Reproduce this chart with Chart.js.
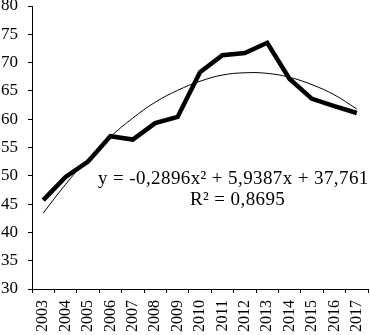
<!DOCTYPE html>
<html>
<head>
<meta charset="utf-8">
<script src="https://cdn.jsdelivr.net/npm/chart.js@4/dist/chart.umd.min.js"></script>
<style>
  html, body { margin: 0; padding: 0; background: #fff; }
  #wrap { width: 370px; height: 335px; position: relative; }
</style>
</head>
<body>
<div id="wrap"><canvas id="trend-chart" width="370" height="335"></canvas></div>
<script>
const years = ['2003','2004','2005','2006','2007','2008','2009','2010','2011','2012','2013','2014','2015','2016','2017'];
const values = [45.7, 49.8, 52.5, 57.0, 56.4, 59.3, 60.4, 68.3, 71.3, 71.7, 73.5, 67.1, 63.6, 62.3, 61.1];
// polynomial trendline
const trendValues = [43.4, 48.5, 53.0, 56.9, 60.2, 63.0, 65.1, 66.7, 67.8, 68.2, 68.1, 67.4, 66.1, 64.3, 61.8];
const equationText = 'y = -0,2896x² + 5,9387x + 37,761';
const rSquaredText = 'R² = 0,8695';

const serif = "'Liberation Serif', 'Times New Roman', serif";

const equationLabel = {
    id: 'equationLabel',
    afterDraw(chart) {
        const ctx = chart.ctx;
        ctx.save();
        ctx.fillStyle = '#000';
        ctx.font = '19px ' + serif;
        ctx.letterSpacing = '0.4px';
        ctx.textBaseline = 'alphabetic';
        ctx.textAlign = 'left';
        ctx.fillText(equationText, 98, 184);
        ctx.fillText(rSquaredText, 190, 205);
        ctx.restore();
    }
};

const canvas = document.getElementById('trend-chart');
const trendChart = new Chart(canvas, {
    type: 'line',
    data: {
        labels: years,
        datasets: [
            {
                label: 'Value',
                data: values,
                borderColor: '#000',
                borderWidth: 4.5,
                pointRadius: 0,
                tension: 0
            },
            {
                label: 'Trend',
                data: trendValues,
                borderColor: '#000',
                borderWidth: 1,
                pointRadius: 0,
                tension: 0.4
            }
        ]
    },
    options: {
        responsive: false,
        animation: false,
        layout: {
            padding: { top: 6, right: 2, left: 0, bottom: 0 }
        },
        plugins: {
            legend: { display: false },
            tooltip: { enabled: false }
        },
        scales: {
            x: {
                offset: true,
                grid: {
                    offset: true,
                    drawOnChartArea: false,
                    tickLength: 4,
                    color: '#000'
                },
                border: { color: '#000', width: 1 },
                ticks: {
                    color: '#000',
                    font: { family: serif, size: 16 },
                    minRotation: 90,
                    maxRotation: 90,
                    padding: 7,
                    autoSkip: false
                },
                afterFit: function(scale) {
                    scale.height = 46;
                    scale.paddingLeft = 0;
                    scale.paddingRight = 0;
                }
            },
            y: {
                min: 30,
                max: 80,
                grid: {
                    drawOnChartArea: false,
                    tickLength: 4,
                    color: '#000'
                },
                border: { color: '#000', width: 1 },
                ticks: {
                    stepSize: 5,
                    color: '#000',
                    font: { family: serif, size: 17 },
                    padding: 10
                },
                afterFit: function(scale) {
                    scale.width = 32;
                    scale.paddingTop = 0;
                    scale.paddingBottom = 0;
                }
            }
        }
    },
    plugins: [equationLabel]
});
</script>
</body>
</html>
